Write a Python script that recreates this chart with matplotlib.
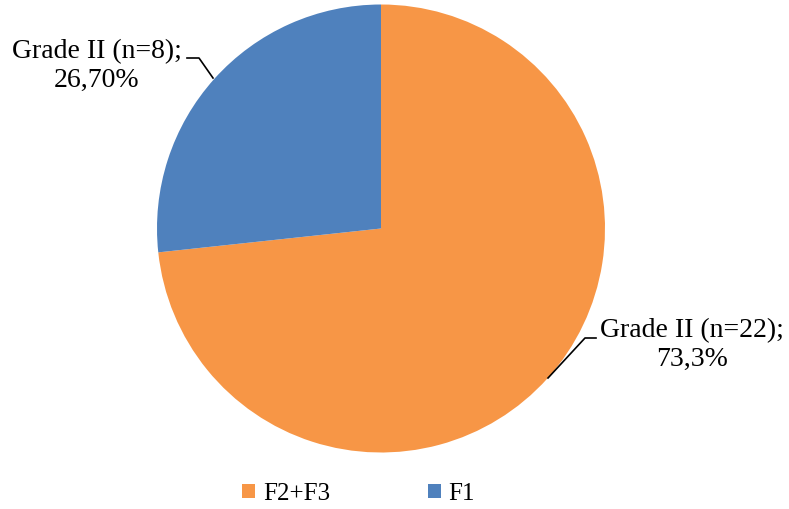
import matplotlib.pyplot as plt
from matplotlib.lines import Line2D

# data
categories = ['F2+F3', 'F1']
values = [73.3, 26.7]
labels = ['Grade II (n=22);\n73,3%', 'Grade II (n=8);\n26,70%']
colors = ['#F79646', '#4F81BD']

plt.rcParams['font.family'] = ['Liberation Serif', 'DejaVu Serif']

W, H = 789, 509
fig = plt.figure(figsize=(W / 100, H / 100), dpi=100)

# pie centre ~ (381, 228.5) px, radius ~224 px
cx, cy, r = 381, 228.5, 224
ax = fig.add_axes([(cx - r) / W, 1 - (cy + r) / H, 2 * r / W, 2 * r / H])
wedges, _ = ax.pie(values, colors=colors, startangle=90, counterclock=False,
                   radius=1, wedgeprops=dict(linewidth=0))
ax.set_xlim(-1, 1)
ax.set_ylim(-1, 1)
ax.set_aspect('equal')
ax.axis('off')


def px(x, y):
    return x / W, 1 - y / H


# data labels
fig.text(*px(692, 345), labels[0], ha='center', va='center', fontsize=20,
         multialignment='center', linespacing=1.15)
fig.text(*px(97, 66), labels[1], ha='center', va='center', fontsize=20,
         multialignment='center', linespacing=1.15)

# leader lines
for pts in ([(596, 338), (585, 338), (548, 378)],
            [(187, 58), (199, 58), (213, 78)]):
    xs = [px(*p)[0] for p in pts]
    ys = [px(*p)[1] for p in pts]
    fig.add_artist(Line2D(xs, ys, transform=fig.transFigure, color='black', lw=1.2))

fig.legend(wedges, categories, loc='center', bbox_to_anchor=px(358.5, 494),
           ncol=2, frameon=False, fontsize=18, handlelength=0.52, handleheight=0.52,
           handletextpad=0.3, columnspacing=3.9)

fig.savefig('out.png', dpi=100)
